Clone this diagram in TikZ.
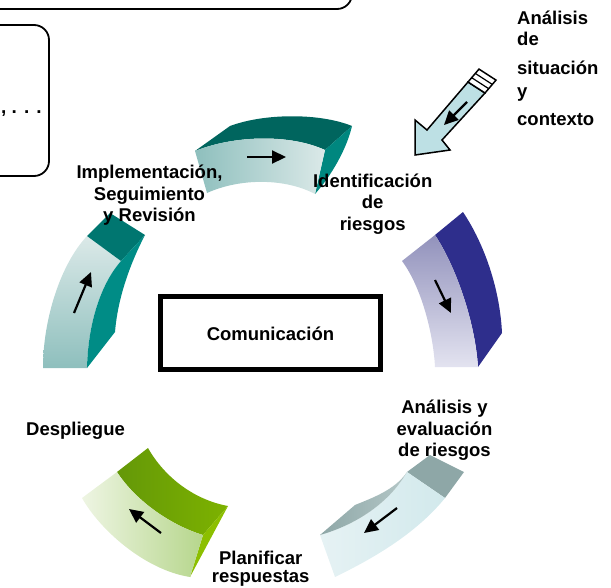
\documentclass[tikz,border=0pt]{standalone}
\usepackage{fontspec}
\setmainfont{Liberation Sans}
\usetikzlibrary{arrows.meta}
\definecolor{tealA}{HTML}{8EBFBD}
\definecolor{tealB}{HTML}{DBE9E8}
\definecolor{tealTop}{HTML}{00655E}
\definecolor{tealSide}{HTML}{00877F}
\definecolor{tealTopL}{HTML}{007670}
\definecolor{tealSideL}{HTML}{008C86}
\definecolor{blueA}{HTML}{9292BC}
\definecolor{blueB}{HTML}{E3E3F0}
\definecolor{blueSide}{HTML}{2E2E8C}
\definecolor{grayCap}{HTML}{8EA7A7}
\definecolor{grayL}{HTML}{B4C7C7}
\definecolor{cyanA}{HTML}{E6F2F4}
\definecolor{cyanB}{HTML}{D2E9EC}
\definecolor{greenTopA}{HTML}{649808}
\definecolor{greenTopB}{HTML}{7DB200}
\definecolor{greenSide}{HTML}{8CBF00}
\definecolor{greenL}{HTML}{EEF5E3}
\definecolor{greenR}{HTML}{B6D68C}
\definecolor{arrowBlue}{HTML}{BDE0E4}

\begin{document}

\begin{tikzpicture}[x=1pt,y=-1pt,
  lbl/.style={font=\bfseries\fontsize{18.5}{21.5}\selectfont, inner sep=0pt, anchor=base},
  lbll/.style={lbl, anchor=base west},
  flow/.style={line width=2.2pt, -{Triangle[length=14pt,width=13pt]}},
  frame/.style={draw=black, line width=1.8pt, rounded corners=15pt}]
\useasboundingbox (0,0) rectangle (611,587);

% boxes at the edges
\draw[frame] (-40,-40) rectangle (352,9);
\draw[frame] (-40,25) rectangle (49,176);
\node[lbll, font=\bfseries\fontsize{19}{21.5}\selectfont] (dots) at (1,113) {, . . .};

% Comunicacion box
\draw[line width=5pt] (160.5,296.5) rectangle (380.5,369.5);
\node[lbl] (com) at (270.5,340) {Comunicación};

% ---- top block (teal)
\fill[tealTop] (195,151) -- (230,126) .. controls (265,113) and (320,113) .. (352,126)
  -- (325,150) .. controls (290,134) and (235,135) .. (195,151) -- cycle;
\fill[tealSide] (325,150) -- (352,126) .. controls (347,148) and (332,175) .. (315,194) -- cycle;
\shade[left color=tealA, right color=tealB] (195,151) .. controls (235,135) and (290,134) .. (325,150)
  -- (315,194) .. controls (285,178) and (240,178) .. (207,193) -- cycle;
\coordinate (ta1) at (247,157);
\coordinate (ta2) at (286,157);
\draw[flow] (ta1) -- (ta2);

% ---- left block (teal)
\shade[top color=tealB, bottom color=tealA] (43,368) .. controls (43,320) and (60,265) .. (87,236)
  -- (121,261) .. controls (100,285) and (88,325) .. (87,368) -- cycle;
\fill[tealTopL] (87,236) -- (110,213) -- (145,235) -- (121,261) -- cycle;
\fill[tealSideL] (121,261) -- (145,235) .. controls (132,260) and (118,295) .. (115,332)
  -- (87,368) .. controls (88,325) and (100,285) .. (121,261) -- cycle;
\coordinate (la1) at (74,313);
\coordinate (la2) at (91,272);
\draw[flow] (la1) -- (la2);

% ---- right block (blue)
\fill[blueSide] (435,235) -- (463,212) .. controls (485,245) and (500,290) .. (502,333)
  -- (478,367) .. controls (475,320) and (455,265) .. (435,235) -- cycle;
\shade[top color=blueA, bottom color=blueB] (402,261) -- (435,235) .. controls (455,265) and (475,320) .. (478,367)
  -- (435,367) .. controls (433,330) and (420,285) .. (402,261) -- cycle;
\coordinate (ra1) at (435,280);
\coordinate (ra2) at (451,313);
\draw[flow] (ra1) -- (ra2);

% ---- bottom right block (grey / cyan)
\fill[grayCap] (407,472) -- (430,455) -- (464,472) -- (445,498) -- cycle;
\shade[left color=cyanA, right color=cyanB] (407,472) -- (445,498) .. controls (415,535) and (370,560) .. (335,577)
  -- (320,535) .. controls (345,528) and (385,510) .. (407,472) -- cycle;
\shade[left color=grayCap, right color=grayL] (320,535) -- (355,505) .. controls (372,498) and (395,490) .. (407,472)
  .. controls (385,510) and (345,528) .. (320,535) -- cycle;
\coordinate (ba1) at (397,508);
\coordinate (ba2) at (364,533);
\draw[flow] (ba1) -- (ba2);

% ---- bottom left block (green)
\shade[left color=greenTopA, right color=greenTopB] (117,472) -- (148,448) .. controls (165,478) and (195,500) .. (228,506)
  -- (203,535) .. controls (170,525) and (135,500) .. (117,472) -- cycle;
\fill[greenSide] (203,535) -- (228,506) -- (190,577) -- cycle;
\shade[left color=greenL, right color=greenR] (82,498) -- (117,472) .. controls (135,500) and (170,525) .. (203,535)
  -- (190,577) .. controls (145,570) and (100,530) .. (82,498) -- cycle;
\coordinate (ga1) at (161,533);
\coordinate (ga2) at (129,509);
\draw[flow] (ga1) -- (ga2);

% ---- big input arrow
\filldraw[fill=arrowBlue, draw=black, line width=1.5pt, line join=miter]
  (415,155) -- (415,120) -- (427,130) -- (468,82) -- (485,93) -- (442,140) -- (450,150) -- cycle;
\filldraw[fill=white, draw=black, line width=1.5pt] (468,82) -- (479,69.1) -- (496,80.1) -- (485,93) -- cycle;
\draw[line width=1.2pt] (471.7,77.7) -- (488.7,88.7) (475.3,73.4) -- (492.3,84.4);
\coordinate (bi1) at (467,102);
\coordinate (bi2) at (444,125);
\draw[flow] (bi1) -- (bi2);

% ---- labels
\node[lbl] (impl1) at (149.5,178) {Implementación,};
\node[lbl] (impl2) at (149.5,200) {Seguimiento};
\node[lbl] (impl3) at (149.5,221.5) {y Revisión};
\node[lbl] (ident1) at (372.7,187) {Identificación};
\node[lbl] (ident2) at (372.7,208.5) {de};
\node[lbl] (ident3) at (372.7,230) {riesgos};
\node[lbl] (anal1) at (444.5,413) {Análisis y};
\node[lbl] (anal2) at (444.5,435) {evaluación};
\node[lbl] (anal3) at (444.5,456.5) {de riesgos};
\node[lbl] (plan1) at (260.7,564) {Planificar};
\node[lbl] (plan2) at (260.7,582.5) {respuestas};
\node[lbl] (desp) at (75.5,435) {Despliegue};
\node[lbll] (ctx1) at (517,24) {Análisis};
\node[lbll] (ctx2) at (517,45) {de};
\node[lbll] (ctx3) at (517,74) {situación};
\node[lbll] (ctx4) at (517,97) {y};
\node[lbll] (ctx5) at (517,125) {contexto};
\end{tikzpicture}

\end{document}
